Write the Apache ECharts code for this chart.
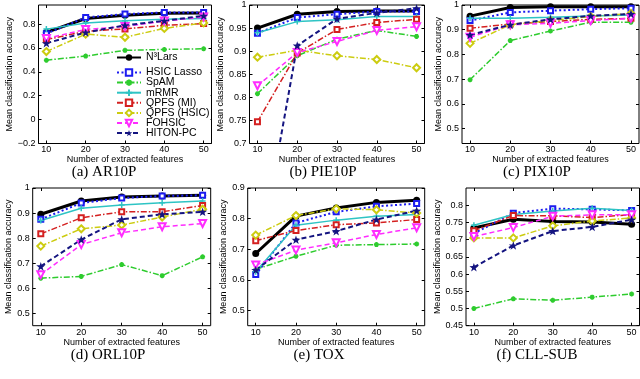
<!DOCTYPE html>
<html>
<head>
<meta charset="utf-8">
<script src="https://cdn.jsdelivr.net/npm/echarts@6/dist/echarts.min.js"></script>
<style>
  html, body { margin: 0; padding: 0; background: #fff; }
  #chart { width: 640px; height: 379px; }
</style>
</head>
<body>
<div id="chart"></div>
<script>
// x values and method names
const featureCounts = [10, 20, 30, 40, 50];
const methods = ['N³Lars', 'HSIC Lasso', 'SpAM', 'mRMR', 'QPFS (MI)', 'QPFS (HSIC)', 'FOHSIC', 'HITON-PC'];

// accuracy per dataset, one row per method (same order as methods)
const ar10p = [
    [0.73, 0.847, 0.875, 0.89, 0.893],
    [0.72, 0.856, 0.884, 0.898, 0.898],
    [0.498, 0.532, 0.58, 0.588, 0.593],
    [0.758, 0.81, 0.828, 0.84, 0.847],
    [0.67, 0.74, 0.76, 0.79, 0.805],
    [0.57, 0.716, 0.69, 0.764, 0.81],
    [0.68, 0.755, 0.78, 0.825, 0.86],
    [0.64, 0.73, 0.79, 0.828, 0.87]
];
const pie10p = [
    [0.95, 0.98, 0.986, 0.987, 0.987],
    [0.939, 0.973, 0.98, 0.986, 0.986],
    [0.808, 0.89, 0.926, 0.945, 0.932],
    [0.94, 0.964, 0.968, 0.975, 0.975],
    [0.747, 0.896, 0.947, 0.962, 0.969],
    [0.887, 0.902, 0.89, 0.882, 0.864],
    [0.825, 0.897, 0.921, 0.945, 0.953],
    [0.43, 0.912, 0.97, 0.983, 0.993]
];
const pix10p = [
    [0.955, 0.99, 0.993, 0.993, 0.993],
    [0.937, 0.97, 0.977, 0.983, 0.987],
    [0.698, 0.856, 0.895, 0.93, 0.93],
    [0.946, 0.946, 0.95, 0.956, 0.96],
    [0.906, 0.923, 0.933, 0.942, 0.946],
    [0.845, 0.92, 0.937, 0.953, 0.966],
    [0.87, 0.92, 0.926, 0.937, 0.946],
    [0.879, 0.92, 0.942, 0.956, 0.964]
];
const orl10p = [
    [0.895, 0.948, 0.964, 0.968, 0.971],
    [0.875, 0.94, 0.96, 0.968, 0.971],
    [0.64, 0.647, 0.694, 0.65, 0.725],
    [0.87, 0.919, 0.932, 0.941, 0.948],
    [0.817, 0.881, 0.905, 0.905, 0.93],
    [0.768, 0.837, 0.852, 0.884, 0.915],
    [0.654, 0.774, 0.821, 0.845, 0.858],
    [0.687, 0.794, 0.875, 0.895, 0.905]
];
const tox = [
    [0.686, 0.808, 0.835, 0.853, 0.86],
    [0.617, 0.786, 0.822, 0.84, 0.849],
    [0.634, 0.677, 0.713, 0.715, 0.717],
    [0.626, 0.778, 0.795, 0.808, 0.813],
    [0.728, 0.761, 0.78, 0.786, 0.797],
    [0.746, 0.81, 0.832, 0.829, 0.818],
    [0.648, 0.697, 0.721, 0.748, 0.77],
    [0.632, 0.731, 0.759, 0.797, 0.826]
];
const cllSub = [
    [0.734, 0.759, 0.753, 0.751, 0.745],
    [0.718, 0.777, 0.79, 0.788, 0.785],
    [0.5, 0.528, 0.524, 0.533, 0.542],
    [0.742, 0.773, 0.783, 0.791, 0.785],
    [0.726, 0.77, 0.769, 0.764, 0.773],
    [0.705, 0.705, 0.74, 0.754, 0.763],
    [0.709, 0.735, 0.768, 0.772, 0.772],
    [0.62, 0.683, 0.725, 0.737, 0.758]
];

// tick labels
const xTicks = [10, 20, 30, 40, 50];
const ar10pTicks = [-0.2, 0, 0.2, 0.4, 0.6, 0.8];
const pie10pTicks = [0.7, 0.75, 0.8, 0.85, 0.9, 0.95, 1];
const pix10pTicks = [0.5, 0.6, 0.7, 0.8, 0.9, 1];
const orl10pTicks = [0.5, 0.6, 0.7, 0.8, 0.9, 1];
const toxTicks = [0.5, 0.6, 0.7, 0.8, 0.9];
const cllSubTicks = [0.45, 0.5, 0.55, 0.6, 0.65, 0.7, 0.75, 0.8];

const panels = [
    { data: ar10p, ticks: ar10pTicks, min: -0.2, max: 0.96, caption: '(a) AR10P', box: [38.5, 5, 173, 138.5], gap: 19, cx: 104, cy: 172 },
    { data: pie10p, ticks: pie10pTicks, min: 0.7, max: 1, caption: '(b) PIE10P', box: [249.5, 5, 175, 138.5], gap: 19, cx: 323, cy: 172 },
    { data: pix10p, ticks: pix10pTicks, min: 0.44, max: 1, caption: '(c) PIX10P', box: [462, 5, 177, 138.5], gap: 17, cx: 537, cy: 172 },
    { data: orl10p, ticks: orl10pTicks, min: 0.45, max: 1, caption: '(d) ORL10P', box: [32.7, 188, 178, 137.7], gap: 17, cx: 108, cy: 355 },
    { data: tox, ticks: toxTicks, min: 0.45, max: 0.9, caption: '(e) TOX', box: [247.7, 188, 177, 137.7], gap: 17, cx: 319, cy: 355 },
    { data: cllSub, ticks: cllSubTicks, min: 0.45, max: 0.85, caption: '(f) CLL-SUB', box: [466, 188, 173.5, 137.7], gap: 21, cx: 537, cy: 355 }
];

const starPath = 'path://M10,0L12.35,6.76L19.51,6.91L13.8,11.24L15.88,18.09L10,14L4.12,18.09L6.2,11.24L0.49,6.91L7.65,6.76Z';
const plusPath = 'path://M5,0L5,10M0,5L10,5';
const asteriskPath = 'path://M5,0L5,10M0,5L10,5M1.5,1.5L8.5,8.5M8.5,1.5L1.5,8.5';

const seriesStyles = [
    { color: '#000000', width: 3, type: 'solid', symbol: 'circle', size: 7, border: 0 },
    { color: '#1c1cf0', width: 2, type: [2, 2.5], symbol: 'emptyRect', size: 5, border: 1.5 },
    { color: '#2ecc2e', width: 1.5, type: [6, 2, 1.5, 2], symbol: asteriskPath, size: 5, border: 1.5 },
    { color: '#2ec4c4', width: 1.5, type: 'solid', symbol: plusPath, size: 6, border: 1.5 },
    { color: '#d42020', width: 1.5, type: [6, 2, 1.5, 2], symbol: 'emptyRect', size: 5, border: 1.5 },
    { color: '#cccc10', width: 1.5, type: [6, 2, 1.5, 2], symbol: 'emptyDiamond', size: 7, border: 1.5 },
    { color: '#ff2cff', width: 1.5, type: [5, 3], symbol: 'emptyTriangle', size: 7, border: 2, rotate: 180 },
    { color: '#141480', width: 2, type: [5, 3], symbol: starPath, size: 9, border: 0 }
];

const axisFont = { fontFamily: 'Liberation Sans', fontSize: 9, color: '#000' };

function fmt(v) {
    return String(+(+v).toFixed(2)).replace('-', '\u2212');
}

const grids = [], xAxes = [], yAxes = [], series = [], graphics = [];

panels.forEach((p, i) => {
    grids.push({
        left: p.box[0], top: p.box[1], width: p.box[2], height: p.box[3],
        show: true, borderColor: '#000', borderWidth: 1, backgroundColor: '#fff'
    });
    // bottom + top x axes
    xAxes.push({
        type: 'value', gridIndex: i, min: 8, max: 52,
        name: 'Number of extracted features', nameLocation: 'middle', nameGap: 9,
        nameTextStyle: axisFont,
        axisLine: { show: false, onZero: false },
        axisTick: { inside: true, length: 3, lineStyle: { color: '#000' }, customValues: xTicks },
        axisLabel: { ...axisFont, margin: 2, customValues: xTicks },
        splitLine: { show: false }
    });
    xAxes.push({
        type: 'value', gridIndex: i, min: 8, max: 52, position: 'top',
        axisLine: { show: false, onZero: false },
        axisTick: { inside: true, length: 3, lineStyle: { color: '#000' }, customValues: xTicks },
        axisLabel: { show: false },
        splitLine: { show: false }
    });
    yAxes.push({
        type: 'value', gridIndex: i, min: p.min, max: p.max,
        name: 'Mean classification accuracy', nameLocation: 'middle', nameGap: p.gap,
        nameTextStyle: axisFont,
        axisLine: { show: false, onZero: false },
        axisTick: { inside: true, length: 3, lineStyle: { color: '#000' }, customValues: p.ticks },
        axisLabel: { ...axisFont, margin: 3, formatter: fmt, customValues: p.ticks },
        splitLine: { show: false }
    });
    yAxes.push({
        type: 'value', gridIndex: i, min: p.min, max: p.max, position: 'right',
        axisLine: { show: false, onZero: false },
        axisTick: { inside: true, length: 3, lineStyle: { color: '#000' }, customValues: p.ticks },
        axisLabel: { show: false },
        splitLine: { show: false }
    });

    p.data.forEach((row, m) => {
        const s = seriesStyles[m];
        series.push({
            name: methods[m],
            type: 'line',
            xAxisIndex: i * 2,
            yAxisIndex: i * 2,
            data: featureCounts.map((x, k) => [x, row[k]]),
            clip: true,
            symbol: s.symbol,
            symbolSize: s.size,
            symbolRotate: s.rotate || 0,
            symbolKeepAspect: true,
            showAllSymbol: true,
            lineStyle: { color: s.color, width: s.width, type: s.type },
            itemStyle: { color: s.color, borderColor: s.color, borderWidth: s.border },
            emphasis: { disabled: true },
            animation: false
        });
    });

    graphics.push({
        type: 'text', x: p.cx, y: p.cy,
        style: {
            text: p.caption, fill: '#000', align: 'center', verticalAlign: 'middle',
            font: '15px "Liberation Serif"'
        }
    });
});

const legendText = { fontFamily: 'Liberation Sans', fontSize: 10.5, color: '#000', lineHeight: 10 };

const option = {
    animation: false,
    grid: grids,
    xAxis: xAxes,
    yAxis: yAxes,
    legend: [
        {
            data: methods.slice(0, 1), orient: 'vertical', left: 115, top: 51,
            itemWidth: 24, itemHeight: 8, padding: 1, textStyle: legendText,
            selectedMode: false
        },
        {
            data: methods.slice(1), orient: 'vertical', left: 115, top: 66,
            itemWidth: 24, itemHeight: 8, itemGap: -0.9, padding: 1, textStyle: legendText,
            backgroundColor: '#fff', selectedMode: false
        }
    ],
    graphic: graphics,
    series: series
};

const chart = echarts.init(document.getElementById('chart'));
chart.setOption(option);
</script>
</body>
</html>
